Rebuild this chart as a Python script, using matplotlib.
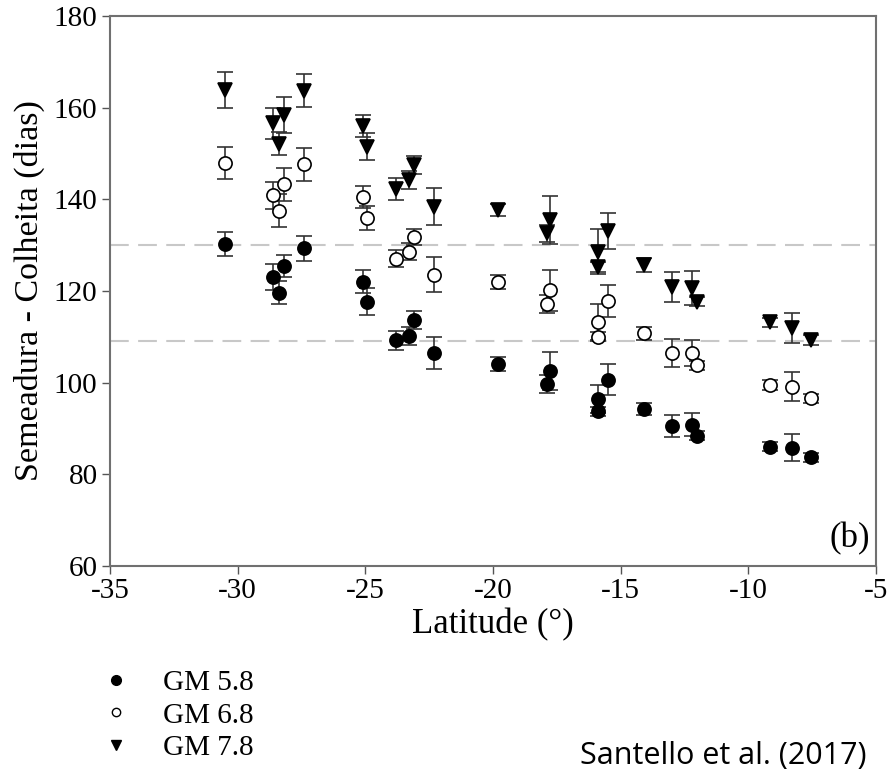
import matplotlib
matplotlib.use("Agg")
from matplotlib import pyplot as plt
from matplotlib.lines import Line2D

# latitude of each site (degrees)
latitude = [-30.5, -28.6, -28.2, -28.4, -27.4, -25.1, -24.95, -23.8, -23.3, -23.1,
            -22.3, -19.8, -17.75, -17.9, -15.5, -15.9, -15.9, -14.1, -13.0, -12.2,
            -12.0, -9.15, -8.3, -7.55]

# days from sowing to harvest, per maturity group
gm58 = [130.2, 123.1, 125.5, 119.6, 129.3, 122.0, 117.7, 109.2, 110.2, 113.7,
        106.4, 104.0, 102.5, 99.7, 100.6, 96.4, 93.7, 94.2, 90.6, 90.8,
        88.4, 86.0, 85.8, 83.7]
gm58_err = [2.6, 2.8, 2.4, 2.5, 2.8, 2.5, 3.0, 2.0, 2.0, 2.0,
            3.5, 1.5, 4.2, 1.9, 3.4, 3.1, 1.0, 1.3, 2.4, 2.5,
            1.0, 1.0, 3.0, 1.0]

gm68 = [147.9, 140.9, 143.3, 137.5, 147.7, 140.6, 135.9, 127.1, 128.6, 131.8,
        123.6, 122.0, 120.2, 117.2, 117.8, 113.3, 110.0, 110.8, 106.5, 106.5,
        103.8, 99.5, 99.1, 96.6]
gm68_err = [3.5, 3.0, 3.6, 3.6, 3.6, 2.4, 2.6, 1.9, 1.9, 1.8,
            3.9, 1.6, 4.5, 2.0, 3.5, 3.9, 1.0, 1.4, 3.0, 2.9,
            1.0, 1.0, 3.2, 1.0]

gm78 = [163.9, 156.6, 158.4, 152.2, 163.7, 156.0, 151.5, 142.2, 144.2, 147.5,
        138.4, 137.7, 135.5, 132.6, 133.1, 128.6, 125.3, 125.7, 120.9, 120.7,
        117.7, 113.2, 111.9, 109.3]
gm78_err = [4.0, 3.3, 4.0, 2.5, 3.6, 2.4, 2.9, 2.4, 2.0, 2.0,
            4.0, 1.4, 5.3, 1.8, 3.9, 4.9, 1.1, 1.5, 3.3, 3.7,
            1.0, 1.0, 3.3, 1.0]

ref_lines = [130, 109]
labels = ['GM 5.8', 'GM 6.8', 'GM 7.8']

plt.rcParams['font.family'] = ['Liberation Serif', 'DejaVu Serif']
plt.rcParams['axes.unicode_minus'] = False

fig = plt.figure(figsize=(8.91, 7.73), dpi=100)
ax = fig.add_axes([0.1235, 0.268, 0.8595, 0.711])

for y in ref_lines:
    ax.axhline(y, color='#c8c8c8', lw=1.5, dashes=(9, 4.5), zorder=1)

series = [(gm58, gm58_err, 'o', 'black'),
          (gm68, gm68_err, 'o', 'white'),
          (gm78, gm78_err, 'v', 'black')]
for vals, errs, mk, face in series:
    ax.errorbar(latitude, vals, yerr=errs, fmt='none', ecolor='#333333',
                elinewidth=1.2, capsize=6, capthick=1.2, zorder=2)
    ax.plot(latitude, vals, linestyle='none', marker=mk, markersize=9.5,
            markerfacecolor=face, markeredgecolor='black', markeredgewidth=1.2,
            zorder=3)

ax.set_xlim(-35, -5)
ax.set_ylim(60, 180)
ax.set_xticks(range(-35, -4, 5))
ax.set_yticks(range(60, 181, 20))
ax.tick_params(labelsize=21, direction='out', length=6, width=1, color='#555555',
               top=False, right=False, pad=3)
for sp in ax.spines.values():
    sp.set_color('#707070')
    sp.set_linewidth(1.5)

ax.set_xlabel('Latitude (°)', fontsize=25, labelpad=3)
ax.set_ylabel('Semeadura - Colheita (dias)', fontsize=24.5, labelpad=6)
ax.text(0.992, 0.02, '(b)', transform=ax.transAxes, ha='right', va='bottom',
        fontsize=25)

handles = [Line2D([], [], linestyle='none', marker='o', markersize=7,
                  markerfacecolor='black', markeredgecolor='black'),
           Line2D([], [], linestyle='none', marker='o', markersize=6,
                  markerfacecolor='white', markeredgecolor='black'),
           Line2D([], [], linestyle='none', marker='v', markersize=7,
                  markerfacecolor='black', markeredgecolor='black')]
fig.legend(handles, labels, loc='upper left', bbox_to_anchor=(0.114, 1 - 670 / 773),
           bbox_transform=fig.transFigure, frameon=False, fontsize=21,
           handlelength=1, handletextpad=1.1, labelspacing=0.2,
           borderaxespad=0, borderpad=0)

fig.text(580 / 891, 2 / 773, 'Santello et al. (2017)', ha='left', va='bottom',
         fontsize=22, family=['Open Sans', 'DejaVu Sans'])

fig.savefig('out.png', dpi=100)
